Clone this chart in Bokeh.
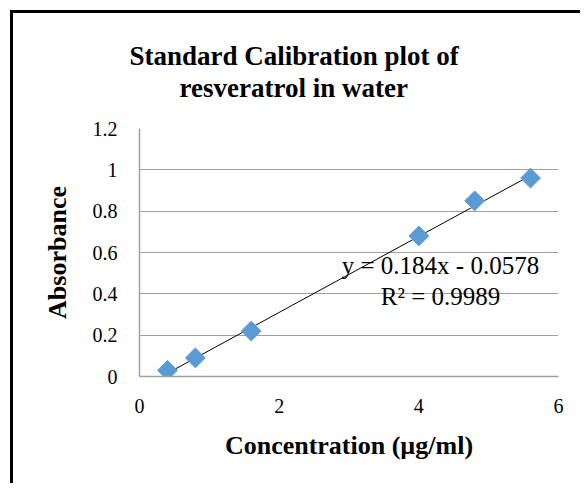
from bokeh.plotting import figure
from bokeh.models import FixedTicker, Label, Title
from bokeh.embed import file_html
from bokeh.resources import INLINE

# ---- data ----
conc = [0.4, 0.8, 1.6, 4.0, 4.8, 5.6]
absorb = [0.03, 0.09, 0.22, 0.68, 0.85, 0.96]
x_ticks = [0, 2, 4, 6]
x_tick_labels = ["0", "2", "4", "6"]
y_ticks = [0, 0.2, 0.4, 0.6, 0.8, 1.0, 1.2]
y_tick_labels = ["0", "0.2", "0.4", "0.6", "0.8", "1", "1.2"]
slope = 0.184
intercept = -0.0578
r_squared = 0.9989
title_lines = ["Standard Calibration plot of", "resveratrol in water"]
x_title = "Concentration (µg/ml)"
y_title = "Absorbance"

SERIF = "Liberation Serif"
GRAY = "#a0a0a0"

p = figure(width=570, height=473, x_range=(0, 6), y_range=(0, 1.2),
           output_backend="svg", toolbar_location=None,
           min_border_left=126, min_border_right=25,
           min_border_top=115, min_border_bottom=110)
p.styles = {"border-left": "3px solid black", "border-top": "3px solid black",
            "margin-left": "10px", "margin-top": "10px"}
p.outline_line_color = None
p.background_fill_color = "white"
p.border_fill_color = "white"

# axes
for ax in (p.xaxis[0], p.yaxis[0]):
    ax.axis_line_color = GRAY
    ax.axis_line_width = 1.5
    ax.major_tick_line_color = None
    ax.minor_tick_line_color = None
    ax.major_tick_out = 0
    ax.major_tick_in = 0
    ax.major_label_text_font = SERIF
    ax.major_label_text_font_size = "20px"
    ax.major_label_text_color = "black"
    ax.axis_label_text_font = SERIF
    ax.axis_label_text_font_style = "bold"
    ax.axis_label_text_font_size = "26px"
    ax.axis_label_text_color = "black"

p.xaxis[0].ticker = FixedTicker(ticks=x_ticks)
p.xaxis[0].major_label_overrides = {t: l for t, l in zip(x_ticks, x_tick_labels)}
p.xaxis[0].major_label_standoff = 22
p.xaxis[0].axis_label = x_title
p.xaxis[0].axis_label_standoff = 15

p.yaxis[0].ticker = FixedTicker(ticks=y_ticks)
p.yaxis[0].major_label_overrides = {t: l for t, l in zip(y_ticks, y_tick_labels)}
p.yaxis[0].major_label_standoff = 22
p.yaxis[0].axis_label = y_title
p.yaxis[0].axis_label_standoff = 18

p.xgrid.visible = False
p.ygrid.grid_line_color = GRAY
p.ygrid.grid_line_width = 1
p.ygrid.ticker = FixedTicker(ticks=y_ticks)

# trendline
x0, x1 = min(conc), max(conc)
p.line([x0, x1], [slope * x0 + intercept, slope * x1 + intercept],
       line_color="black", line_width=1)

# markers (Excel-style diamonds)
p.scatter(conc, absorb, marker="square", angle=0.785398, size=14,
          fill_color="#5b9bd5", line_color="#5b9bd5")

# equation text
eq1 = f"y = {slope}x - {abs(intercept)}"
eq2 = f"R² = {r_squared}"
p.add_layout(Label(x=4.31, y=0.537, text=eq1, text_align="center",
                   text_baseline="alphabetic", text_font=SERIF,
                   text_font_size="25px", text_color="black"))
p.add_layout(Label(x=4.31, y=0.387, text=eq2, text_align="center",
                   text_baseline="alphabetic", text_font=SERIF,
                   text_font_size="25px", text_color="black"))

# chart title: spacer + two lines, left aligned with offsets so they sit centred on the chart
spacer = Title(text=" ", text_font_size="1px", standoff=23)
t2 = Title(text=title_lines[1], align="left", offset=40, standoff=0,
           text_font=SERIF, text_font_style="bold", text_font_size="27px",
           text_color="black")
t1 = Title(text=title_lines[0], align="left", offset=-10, standoff=0,
           text_font=SERIF, text_font_style="bold", text_font_size="27px",
           text_color="black")
p.add_layout(spacer, "above")
p.add_layout(t2, "above")
p.add_layout(t1, "above")

open("out.html", "w").write(file_html(p, INLINE))
